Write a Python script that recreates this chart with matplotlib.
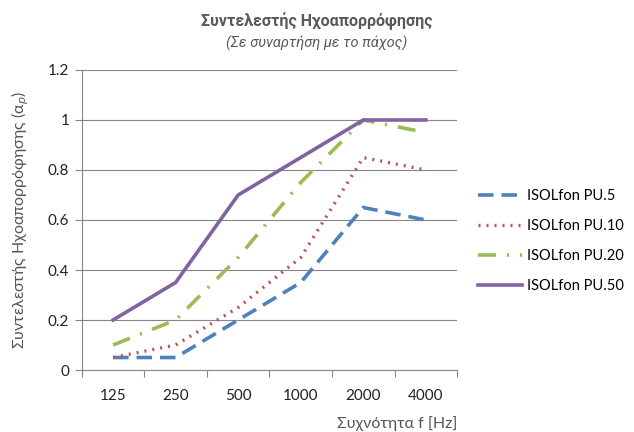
import numpy as np
import matplotlib.pyplot as plt

# Data
frequencies = ["125", "250", "500", "1000", "2000", "4000"]
pu5 = [0.05, 0.05, 0.20, 0.35, 0.65, 0.60]
pu10 = [0.05, 0.10, 0.25, 0.45, 0.85, 0.80]
pu20 = [0.10, 0.20, 0.45, 0.75, 1.00, 0.95]
pu50 = [0.20, 0.35, 0.70, 0.85, 1.00, 1.00]
series_names = ["ISOLfon PU.5", "ISOLfon PU.10", "ISOLfon PU.20", "ISOLfon PU.50"]

plt.rcParams['font.family'] = ['Lato', 'DejaVu Sans']

fig = plt.figure(figsize=(6.34, 4.32), dpi=100)
ax = fig.add_axes([0.129, 0.1435, 0.592, 0.6945])

pos = np.arange(len(frequencies)) + 0.5

ax.plot(pos, pu5, color="#4F81BD", linewidth=2.6, linestyle=(0, (4.3, 2.2)), label=series_names[0])
ax.plot(pos, pu10, color="#C0504D", linewidth=2.4, linestyle=(0, (0.6, 1.8)), label=series_names[1])
ax.plot(pos, pu20, color="#9BBB59", linewidth=2.6, linestyle=(0, (5, 3, 0.6, 3)), label=series_names[2])
ax.plot(pos, pu50, color="#8064A2", linewidth=2.6, linestyle="-", label=series_names[3])

ax.set_xlim(0, len(frequencies))
ax.set_ylim(0, 1.2)
ax.set_yticks(np.arange(0, 1.21, 0.2))
ax.set_yticklabels(["0", "0.2", "0.4", "0.6", "0.8", "1", "1.2"])

ax.set_xticks(np.arange(0, len(frequencies) + 1))
ax.set_xticklabels([])
ax.set_xticks(pos, minor=True)
ax.set_xticklabels(frequencies, minor=True)
ax.tick_params(axis="x", which="minor", length=0, pad=14, labelsize=11, labelcolor="#222222")
ax.tick_params(axis="x", which="major", length=5, color="#868686", direction="out")
ax.tick_params(axis="y", length=5, color="#868686", direction="out", labelsize=11, labelcolor="#222222", pad=4)

ax.grid(True, axis="y", color="#868686", linewidth=0.8)
ax.set_axisbelow(True)
for side in ["top", "right"]:
    ax.spines[side].set_visible(False)
for side in ["left", "bottom"]:
    ax.spines[side].set_color("#868686")
    ax.spines[side].set_linewidth(0.8)

ax.set_ylabel("Συντελεστής Ηχοαπορρόφησης (α$_p$)", fontsize=11.5, color="#555555", labelpad=12)
ax.set_xlabel("Συχνότητα f [Hz]", fontsize=11.5, color="#555555")
ax.xaxis.set_label_coords(1.0, -0.155)
ax.xaxis.label.set_horizontalalignment("right")

fig.text(0.5, 0.952, "Συντελεστής Ηχοαπορρόφησης", ha="center", va="center",
         fontsize=11.5, fontweight="bold", color="#595959", family=["Roboto", "DejaVu Sans"])
fig.text(0.5, 0.9, "(Σε συναρτήση με το πάχος)", ha="center", va="center",
         fontsize=10.5, style="italic", color="#595959", family=["Roboto", "DejaVu Sans"])

ax.legend(loc="center left", bbox_to_anchor=(1.04, 0.43), frameon=False,
          fontsize=10.5, handlelength=3.0, labelspacing=1.1, handletextpad=0.35,
          borderaxespad=0.0)

fig.savefig("out.png", dpi=100)
